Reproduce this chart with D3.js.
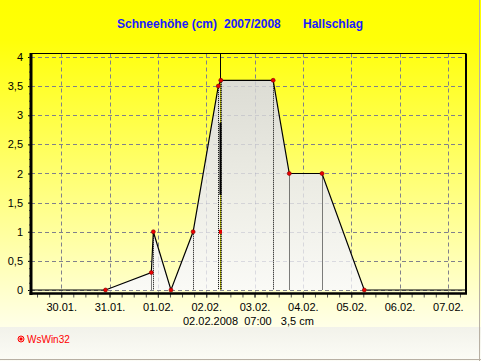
<!DOCTYPE html>
<html>
<head>
<meta charset="utf-8">
<script src="https://cdn.jsdelivr.net/npm/d3@7"></script>
<style>
  body { margin: 0; overflow: hidden; background: #fff; }
  text { font-family: "Liberation Sans", Arial, sans-serif; }
</style>
</head>
<body>
<svg id="chart"></svg>
<script>
// Schneehöhe Hallschlag, Messwerte
const times = ['2008-01-30 22:00', '2008-01-31 20:45', '2008-01-31 21:45', '2008-02-01 06:30',
  '2008-02-01 17:30', '2008-02-02 06:00', '2008-02-02 07:15', '2008-02-03 09:15',
  '2008-02-03 17:15', '2008-02-04 09:30', '2008-02-05 06:30'];
const snow = [0, 0.3, 1, 0, 1, 3.5, 3.6, 3.6, 2, 2, 0];
const dayTicks = ['30.01.2008', '31.01.2008', '01.02.2008', '02.02.2008', '03.02.2008',
  '04.02.2008', '05.02.2008', '06.02.2008', '07.02.2008'];
const yTicks = [0, 0.5, 1, 1.5, 2, 2.5, 3, 3.5, 4];
const cursorTime = '2008-02-02 07:00';
const cursorBar = [1.63, 2.87];
const cursorMark = 1;
const titleParts = ['Schneehöhe (cm)', '2007/2008', 'Hallschlag'];
const legendText = '02.02.2008  07:00   3,5 cm';

const W = 481, H = 361;
const parse = d3.timeParse('%Y-%m-%d %H:%M');
const data = times.map((t, i) => ({ t: parse(t), v: snow[i] }));
const days = dayTicks.map(d3.timeParse('%d.%m.%Y'));
const t0 = parse('2008-01-29 09:00'), t1 = parse('2008-02-07 09:00');

const pLeft = 31, pRight = 466, pTop = 53.5, pBottom = 293.5;
const x = d3.scaleTime().domain([t0, t1]).range([pLeft, pRight]);
const y = d3.scaleLinear().domain([-0.06, 4.06]).range([pBottom, pTop]);

const svg = d3.select('#chart').attr('width', W).attr('height', H);
const defs = svg.append('defs');

const bg = defs.append('linearGradient').attr('id', 'bg').attr('x1', 0).attr('y1', 0).attr('x2', 0).attr('y2', 1);
bg.append('stop').attr('offset', 0).attr('stop-color', '#ffff00');
bg.append('stop').attr('offset', 0.12).attr('stop-color', '#ffff08');
bg.append('stop').attr('offset', 1).attr('stop-color', '#ffffe8');

const af = defs.append('linearGradient').attr('id', 'areaFill')
  .attr('gradientUnits', 'userSpaceOnUse').attr('x1', 0).attr('y1', y(3.6)).attr('x2', 0).attr('y2', y(0));
af.append('stop').attr('offset', 0).attr('stop-color', '#dcdcd4');
af.append('stop').attr('offset', 0.5).attr('stop-color', '#ececE4');
af.append('stop').attr('offset', 1).attr('stop-color', '#fafaf6');

const bandG = defs.append('linearGradient').attr('id', 'band').attr('x1', 0).attr('y1', 0).attr('x2', 0).attr('y2', 1);
bandG.append('stop').attr('offset', 0).attr('stop-color', '#f2f2ea');
bandG.append('stop').attr('offset', 1).attr('stop-color', '#fcfcf6');

// background
svg.append('rect').attr('width', W).attr('height', 327).attr('fill', 'url(#bg)');
svg.append('rect').attr('y', 327).attr('width', W).attr('height', H - 327).attr('fill', 'url(#band)');
svg.append('line').attr('x1', 479.5).attr('x2', 479.5).attr('y1', 0).attr('y2', H).attr('stroke', '#b8b0a4');
svg.append('line').attr('x1', 0).attr('x2', W).attr('y1', 359.5).attr('y2', 359.5).attr('stroke', '#b8b0a4');

// title
const titleX = [117, 224, 303];
svg.append('g').selectAll('text').data(titleParts).join('text')
  .attr('x', (d, i) => titleX[i]).attr('y', 28)
  .attr('font-size', 12).attr('font-weight', 'bold').attr('fill', '#1a1aff')
  .text(d => d);

// gridlines
function grid(g, color, op) {
  g.selectAll('.gx').data(days).join('line').attr('class', 'gx')
    .attr('x1', d => Math.round(x(d)) + 0.5).attr('x2', d => Math.round(x(d)) + 0.5)
    .attr('y1', pTop).attr('y2', pBottom - 1)
    .attr('stroke', color).attr('stroke-dasharray', '4,3').attr('opacity', op);
  g.selectAll('.gy').data(yTicks).join('line').attr('class', 'gy')
    .attr('x1', pLeft).attr('x2', pRight)
    .attr('y1', d => Math.round(y(d)) + 0.5).attr('y2', d => Math.round(y(d)) + 0.5)
    .attr('stroke', color).attr('stroke-dasharray', '4,3').attr('opacity', op);
}
grid(svg.append('g'), '#80808c', 1);

// series
const series = [{ t: t0, v: 0 }, ...data, { t: t1, v: 0 }];
const area = d3.area().x(d => x(d.t)).y0(y(0)).y1(d => y(d.v));
const line = d3.line().x(d => x(d.t)).y(d => y(d.v));

defs.append('clipPath').attr('id', 'areaClip').append('path').datum(data).attr('d', area);
svg.append('path').datum(data).attr('d', area).attr('fill', 'url(#areaFill)');
grid(svg.append('g').attr('clip-path', 'url(#areaClip)'), '#9090b0', 0.28);

// drop lines
svg.append('g').selectAll('line').data(data.filter(d => d.v > 0)).join('line')
  .attr('x1', d => Math.round(x(d.t)) + 0.5).attr('x2', d => Math.round(x(d.t)) + 0.5)
  .attr('y1', d => y(d.v)).attr('y2', y(0))
  .attr('stroke', '#000').attr('stroke-dasharray', '1,1');

// cursor
const ct = parse(cursorTime);
const cx = Math.round(x(ct)) + 0.5;
svg.append('line').attr('x1', cx).attr('x2', cx).attr('y1', pTop).attr('y2', y(3.6))
  .attr('stroke', '#000');
svg.append('line').attr('x1', cx).attr('x2', cx).attr('y1', y(3.6)).attr('y2', y(0))
  .attr('stroke', '#ffff00');
svg.append('line').attr('x1', cx).attr('x2', cx).attr('y1', y(3.6)).attr('y2', y(0))
  .attr('stroke', '#000').attr('stroke-dasharray', '1,1');
svg.append('line').attr('x1', cx).attr('x2', cx).attr('y1', y(cursorBar[0])).attr('y2', y(cursorBar[1]))
  .attr('stroke', '#000').attr('stroke-width', 2);
svg.append('rect').attr('x', cx - 1.5).attr('y', y(cursorMark) - 2).attr('width', 3).attr('height', 4)
  .attr('fill', '#e00000');

svg.append('path').datum(series).attr('d', line)
  .attr('fill', 'none').attr('stroke', '#000').attr('stroke-width', 1.2);

svg.append('g').selectAll('circle').data(data).join('circle')
  .attr('cx', d => x(d.t)).attr('cy', d => y(d.v)).attr('r', 2)
  .attr('fill', '#ee0000').attr('stroke', '#800000').attr('stroke-width', 0.6);

// axes
const yAxis = d3.axisLeft(y).tickValues(yTicks).tickSize(3).tickPadding(5)
  .tickFormat(d => String(d).replace('.', ','));
const gy = svg.append('g').attr('transform', `translate(${pLeft},0)`).call(yAxis);
gy.select('.domain').remove();
gy.selectAll('text').attr('font-size', 11).attr('font-family', '"Liberation Sans", Arial, sans-serif').attr('fill', '#000');
const gym = svg.append('g').attr('transform', `translate(${pLeft},0)`)
  .call(d3.axisLeft(y).tickValues(d3.range(0, 4.01, 0.125)).tickSize(2).tickFormat(''));
gym.select('.domain').remove();
gym.selectAll('line').attr('stroke', '#555');

const xAxis = d3.axisBottom(x).tickValues(days).tickSize(4).tickPadding(6)
  .tickFormat(d3.timeFormat('%d.%m.'));
const gx = svg.append('g').attr('transform', `translate(0,${pBottom})`).call(xAxis);
gx.select('.domain').remove();
gx.selectAll('text').attr('font-size', 11).attr('font-family', '"Liberation Sans", Arial, sans-serif').attr('fill', '#000');
const gxm = svg.append('g').attr('transform', `translate(0,${pBottom})`)
  .call(d3.axisBottom(x).ticks(d3.timeHour.every(6)).tickSize(4).tickFormat(''));
gxm.select('.domain').remove();
gxm.selectAll('line').attr('stroke', '#555');

// frame
svg.append('line').attr('x1', pLeft).attr('x2', pRight).attr('y1', pTop).attr('y2', pTop).attr('stroke', '#000');
svg.append('line').attr('x1', pRight).attr('x2', pRight).attr('y1', pTop).attr('y2', pBottom).attr('stroke', '#000').attr('stroke-width', 2);
svg.append('line').attr('x1', pLeft).attr('x2', pLeft).attr('y1', pTop - 0.5).attr('y2', pBottom + 1.5).attr('stroke', '#000').attr('stroke-width', 3);
svg.append('line').attr('x1', pLeft - 1.5).attr('x2', pRight + 1).attr('y1', pBottom).attr('y2', pBottom).attr('stroke', '#000').attr('stroke-width', 2.5);

// legend
svg.append('text').attr('x', 183).attr('y', 325).attr('font-size', 11).attr('fill', '#000')
  .attr('xml:space', 'preserve').style('white-space', 'pre').text(legendText);

// WsWin32 mark
svg.append('circle').attr('cx', 21).attr('cy', 339).attr('r', 3).attr('fill', 'none').attr('stroke', '#ff0000');
svg.append('rect').attr('x', 19.5).attr('y', 337.5).attr('width', 3).attr('height', 3).attr('fill', '#ff0000');
svg.append('text').attr('x', 27).attr('y', 342.5).attr('font-size', 10).attr('fill', '#ff0000').text('WsWin32');
</script>
</body>
</html>
